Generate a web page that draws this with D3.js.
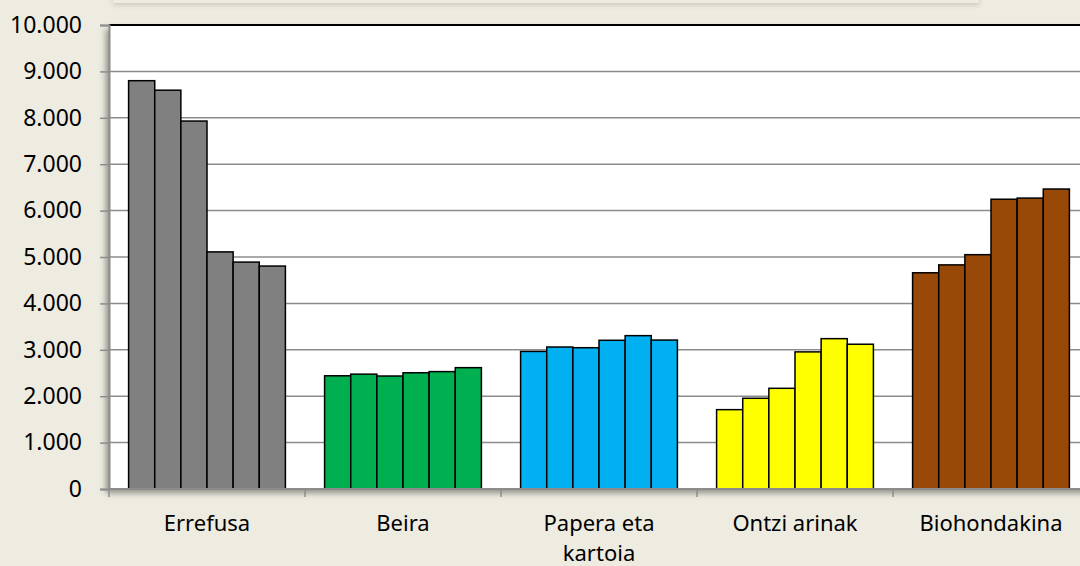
<!DOCTYPE html>
<html>
<head>
<meta charset="utf-8">
<script src="https://cdn.jsdelivr.net/npm/d3@7"></script>
<style>
  html, body { margin: 0; padding: 0; background: #EEEBE0; }
  svg { display: block; font-family: "Noto Sans", sans-serif; }
</style>
</head>
<body>
<svg id="chart" width="1080" height="566"></svg>
<script>
// categories (two-line labels split with "|")
var categories = ["Errefusa", "Beira", "Papera eta|kartoia", "Ontzi arinak", "Biohondakina"];
var colors = ["#808080", "#00B050", "#00B0F0", "#FFFF00", "#984807"];

// one array per series (six consecutive years), values per category
var serie1 = [8800, 2440, 2965, 1710, 4660];
var serie2 = [8595, 2475, 3060, 1955, 4830];
var serie3 = [7930, 2435, 3045, 2170, 5050];
var serie4 = [5110, 2505, 3205, 2955, 6245];
var serie5 = [4890, 2530, 3305, 3240, 6270];
var serie6 = [4805, 2615, 3210, 3120, 6465];
var series = [serie1, serie2, serie3, serie4, serie5, serie6];

var yTicks = [0, 1000, 2000, 3000, 4000, 5000, 6000, 7000, 8000, 9000, 10000];

var fmt = function(v) { return d3.format(",")(v).replace(/,/g, "."); };

var svg = d3.select("#chart");
var margin = {top: 25, left: 109, bottom: 489};
var step = 196;

var x = d3.scaleBand()
  .domain(categories)
  .range([margin.left, margin.left + step * categories.length])
  .paddingInner(0.2)
  .paddingOuter(0.1);

var xs = d3.scaleBand()
  .domain(d3.range(series.length))
  .range([0, x.bandwidth()]);

var y = d3.scaleLinear().domain([0, 10000]).range([margin.bottom, margin.top]);

var defs = svg.append("defs");
var f = defs.append("filter").attr("id", "shadow")
  .attr("x", "-5%").attr("y", "-5%").attr("width", "110%").attr("height", "115%");
f.append("feDropShadow").attr("dx", -3).attr("dy", 4).attr("stdDeviation", 3)
  .attr("flood-color", "#000").attr("flood-opacity", 0.4);

var f2 = defs.append("filter").attr("id", "soft")
  .attr("x", "-5%").attr("y", "-50%").attr("width", "110%").attr("height", "200%");
f2.append("feDropShadow").attr("dx", 0).attr("dy", 2).attr("stdDeviation", 2.5)
  .attr("flood-color", "#000").attr("flood-opacity", 0.15);

// box at the top, mostly off-screen
svg.append("rect")
  .attr("x", 113).attr("y", -20).attr("width", 866).attr("height", 23)
  .attr("fill", "#EEEBE0")
  .attr("filter", "url(#soft)");

// plot area
svg.append("rect")
  .attr("x", margin.left).attr("y", margin.top)
  .attr("width", 1100 - margin.left).attr("height", margin.bottom - margin.top)
  .attr("fill", "#fff")
  .attr("filter", "url(#shadow)");

// gridlines
svg.append("g")
  .selectAll("line")
  .data(yTicks.slice(1, -1))
  .enter().append("line")
  .attr("x1", margin.left).attr("x2", 1080)
  .attr("y1", function(d) { return y(d); })
  .attr("y2", function(d) { return y(d); })
  .attr("stroke", "#8C8C8C")
  .attr("stroke-width", 1.5);

// top border
svg.append("line")
  .attr("x1", margin.left).attr("x2", 1080)
  .attr("y1", margin.top).attr("y2", margin.top)
  .attr("stroke", "#000").attr("stroke-width", 2);

// bars
var groups = svg.append("g")
  .selectAll("g")
  .data(categories)
  .enter().append("g")
  .attr("transform", function(d) { return "translate(" + x(d) + ",0)"; });

groups.selectAll("rect")
  .data(function(d, i) { return series.map(function(s) { return {v: s[i], c: colors[i]}; }); })
  .enter().append("rect")
  .attr("x", function(d, j) { return xs(j); })
  .attr("width", xs.bandwidth())
  .attr("y", function(d) { return y(d.v); })
  .attr("height", function(d) { return y(0) - y(d.v); })
  .attr("fill", function(d) { return d.c; })
  .attr("stroke", "#000")
  .attr("stroke-width", 1.5);

// y axis
var yAxis = svg.append("g")
  .attr("transform", "translate(" + margin.left + ",0)")
  .call(d3.axisLeft(y).tickValues(yTicks).tickFormat(fmt).tickSize(9).tickPadding(18));
yAxis.select(".domain").attr("stroke", "#8C8C8C").attr("stroke-width", 2);
yAxis.selectAll(".tick line").attr("stroke", "#8C8C8C").attr("stroke-width", 1.5);
yAxis.selectAll("text")
  .style("font-size", "23px")
  .style("font-family", "'Noto Sans'")
  .attr("fill", "#000");

// x axis
var xAxis = svg.append("g")
  .attr("transform", "translate(0," + margin.bottom + ")");
xAxis.append("line")
  .attr("x1", margin.left).attr("x2", 1080)
  .attr("stroke", "#8C8C8C").attr("stroke-width", 2);
xAxis.selectAll(".sep")
  .data(d3.range(categories.length + 1))
  .enter().append("line")
  .attr("class", "sep")
  .attr("x1", function(i) { return margin.left + i * x.step(); })
  .attr("x2", function(i) { return margin.left + i * x.step(); })
  .attr("y1", 0).attr("y2", 8)
  .attr("stroke", "#8C8C8C").attr("stroke-width", 1.5);

var labels = xAxis.selectAll(".lbl")
  .data(categories)
  .enter().append("text")
  .attr("class", "lbl")
  .attr("text-anchor", "middle")
  .style("font-size", "22px")
  .attr("fill", "#000")
  .attr("transform", function(d) { return "translate(" + (x(d) + x.bandwidth() / 2) + ",42)"; });

labels.selectAll("tspan")
  .data(function(d) { return d.split("|"); })
  .enter().append("tspan")
  .attr("x", 0)
  .attr("dy", function(d, i) { return i === 0 ? 0 : 30; })
  .text(function(d) { return d; });
</script>
</body>
</html>
